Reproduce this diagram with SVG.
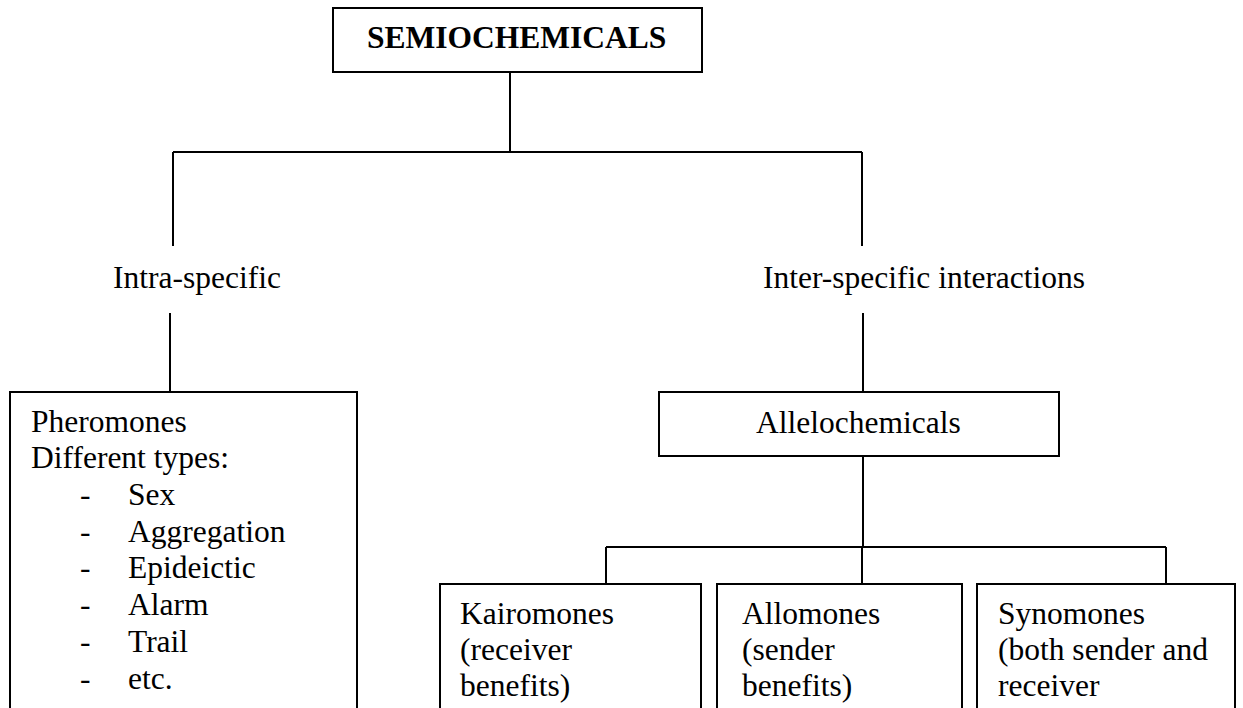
<svg xmlns="http://www.w3.org/2000/svg" width="1243" height="708" viewBox="0 0 1243 708">
<style>
  .box { fill: #ffffff; stroke: #000000; stroke-width: 2; }
  .conn { fill: none; stroke: #000000; stroke-width: 2; }
  text { font-family: "Liberation Serif", "Times New Roman", serif; font-size: 31.5px; fill: #000000; }
  .bold { font-weight: bold; }
</style>
<rect width="1243" height="708" fill="#ffffff"/>
<g id="connectors">
  <path class="conn" d="M510,72 V152 M173,152 H862 M173,152 V246 M862,152 V246"/>
  <path class="conn" d="M170,313 V392"/>
  <path class="conn" d="M863,313 V392"/>
  <path class="conn" d="M863,456 V547 M606,547 H1166 M606,547 V584 M862,547 V584 M1166,547 V584"/>
</g>
<g id="semiochemicals">
  <rect class="box" x="333" y="8" width="369" height="64"/>
  <text class="bold" x="367" y="48">SEMIOCHEMICALS</text>
</g>
<g id="intra-specific">
  <text x="113" y="288">Intra-specific</text>
</g>
<g id="inter-specific">
  <text x="763" y="288">Inter-specific interactions</text>
</g>
<g id="pheromones">
  <rect class="box" x="10" y="392" width="347" height="330"/>
  <text x="31" y="432">Pheromones</text>
  <text x="31" y="468">Different types:</text>
  <text x="80" y="505">-</text><text x="128" y="505">Sex</text>
  <text x="80" y="542">-</text><text x="128" y="542">Aggregation</text>
  <text x="80" y="578">-</text><text x="128" y="578">Epideictic</text>
  <text x="80" y="615">-</text><text x="128" y="615">Alarm</text>
  <text x="80" y="652">-</text><text x="128" y="652">Trail</text>
  <text x="80" y="689">-</text><text x="128" y="689">etc.</text>
</g>
<g id="allelochemicals">
  <rect class="box" x="659" y="392" width="400" height="64"/>
  <text x="756" y="433">Allelochemicals</text>
</g>
<g id="kairomones">
  <rect class="box" x="440" y="584" width="261" height="140"/>
  <text x="460" y="624">Kairomones</text>
  <text x="460" y="660">(receiver</text>
  <text x="460" y="696">benefits)</text>
</g>
<g id="allomones">
  <rect class="box" x="717" y="584" width="245" height="140"/>
  <text x="742" y="624">Allomones</text>
  <text x="742" y="660">(sender</text>
  <text x="742" y="696">benefits)</text>
</g>
<g id="synomones">
  <rect class="box" x="977" y="584" width="258" height="140"/>
  <text x="998" y="624">Synomones</text>
  <text x="998" y="660">(both sender and</text>
  <text x="998" y="696">receiver</text>
</g>
</svg>
